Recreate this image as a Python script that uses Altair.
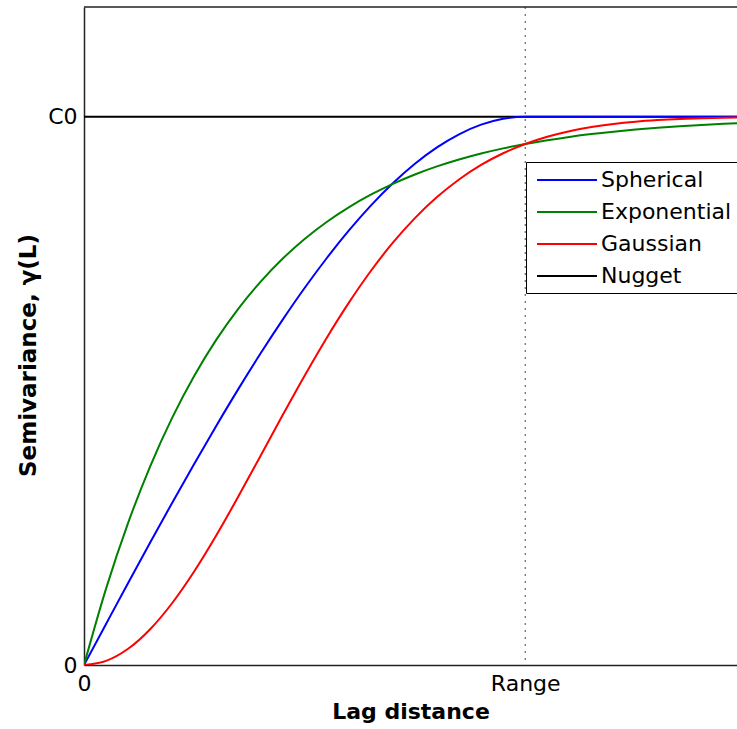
import altair as alt
import pandas as pd

# Lag distance in units of the range (1 = Range)
lag = [0.00, 0.05, 0.10, 0.15, 0.20, 0.25, 0.30, 0.35, 0.40, 0.45,
       0.50, 0.55, 0.60, 0.65, 0.70, 0.75, 0.80, 0.85, 0.90, 0.95,
       1.00, 1.05, 1.10, 1.15, 1.20, 1.25, 1.30, 1.35, 1.40, 1.45, 1.50]

# Semivariance in units of the sill C0
spherical = [0.0000, 0.0749, 0.1495, 0.2233, 0.2960, 0.3672, 0.4365, 0.5036, 0.5680, 0.6294,
             0.6875, 0.7418, 0.7920, 0.8377, 0.8785, 0.9141, 0.9440, 0.9679, 0.9855, 0.9963,
             1.0000, 1.0000, 1.0000, 1.0000, 1.0000, 1.0000, 1.0000, 1.0000, 1.0000, 1.0000, 1.0000]
exponential = [0.0000, 0.1393, 0.2592, 0.3624, 0.4512, 0.5276, 0.5934, 0.6501, 0.6988, 0.7408,
               0.7769, 0.8080, 0.8347, 0.8577, 0.8775, 0.8946, 0.9093, 0.9219, 0.9328, 0.9422,
               0.9502, 0.9571, 0.9631, 0.9683, 0.9727, 0.9765, 0.9798, 0.9826, 0.9850, 0.9871, 0.9889]
gaussian = [0.0000, 0.0075, 0.0296, 0.0653, 0.1131, 0.1710, 0.2366, 0.3076, 0.3812, 0.4553,
            0.5276, 0.5965, 0.6604, 0.7185, 0.7701, 0.8150, 0.8534, 0.8855, 0.9120, 0.9333,
            0.9502, 0.9634, 0.9735, 0.9811, 0.9867, 0.9908, 0.9937, 0.9958, 0.9972, 0.9982, 0.9988]
nugget_lag = [0.0, 1.5]
nugget = [1.0, 1.0]

series_names = ["Spherical", "Exponential", "Gaussian", "Nugget"]
series_colors = ["#0000ff", "#008000", "#ff0000", "#000000"]

range_lag = [1.0]
y_top = [1.2]

# Nugget first so the model curves sit on top of it
rows = [{"lag": x, "gamma": y, "model": "Nugget", "k": 0} for x, y in zip(nugget_lag, nugget)]
for k, (name, vals) in enumerate([("Spherical", spherical), ("Exponential", exponential),
                                  ("Gaussian", gaussian)], start=1):
    rows += [{"lag": x, "gamma": y, "model": name, "k": k} for x, y in zip(lag, vals)]
df = pd.DataFrame(rows)

font = "DejaVu Sans"

x_scale = alt.Scale(domain=[0, 1.48], nice=False, zero=False)
y_scale = alt.Scale(domain=[0, 1.2], nice=False, zero=False)

x_axis = alt.Axis(
    values=[0, 1], labelExpr="datum.value == 0 ? '0' : 'Range'",
    title="Lag distance", ticks=False, grid=False, labelFlush=False,
    labelFont=font, labelFontSize=22, labelColor="#000", labelPadding=8,
    titleFont=font, titleFontSize=22, titleFontWeight="bold", titleColor="#000",
    titleBaseline="alphabetic", titleY=53,
    domainColor="#222", domainWidth=1.5,
)
y_axis = alt.Axis(
    values=[0, 1], labelExpr="datum.value == 0 ? '0' : 'C0'",
    title="Semivariance, γ(L)", ticks=False, grid=False, labelFlush=False,
    labelFont=font, labelFontSize=22, labelColor="#000", labelPadding=7,
    titleFont=font, titleFontSize=23, titleFontWeight="bold", titleColor="#000",
    titleAngle=270, titleBaseline="alphabetic", titleAlign="center",
    titleX=-49, titleY=348,
    domainColor="#222", domainWidth=1.5,
)

# Legend swatch: a 60px horizontal stroke drawn as a custom path
swatch = "M-0.636,0H4.818"

color = alt.Color(
    "model:N",
    scale=alt.Scale(domain=series_names, range=series_colors),
    legend=alt.Legend(
        title=None, orient="none", legendX=442, legendY=155,
        symbolType=swatch, symbolSize=484, symbolStrokeWidth=2,
        labelFont=font, labelFontSize=22, labelColor="#000", labelOffset=45,
        padding=6, rowPadding=9, strokeColor="#000", fillColor="#fff",
    ),
)

curves = alt.Chart(df).mark_line(strokeWidth=2, clip=True, interpolate="monotone").encode(
    x=alt.X("lag:Q", scale=x_scale, axis=x_axis),
    y=alt.Y("gamma:Q", scale=y_scale, axis=y_axis),
    color=color,
    order=alt.Order("k:Q"),
    detail="k:N",
)

range_line = alt.Chart(pd.DataFrame({"lag": range_lag})).mark_rule(
    color="#444", strokeWidth=1, strokeDash=[2, 5]
).encode(x=alt.X("lag:Q", scale=x_scale))

top_border = alt.Chart(pd.DataFrame({"g": y_top})).mark_rule(
    color="#222", strokeWidth=1.5
).encode(y=alt.Y("g:Q", scale=y_scale))

chart = alt.layer(range_line, top_border, curves).properties(
    width=653, height=658,
    autosize=alt.AutoSizeParams(type="none"),
    padding={"left": 84, "top": 7, "right": 0, "bottom": 64},
    background="#ffffff",
).configure_view(stroke=None)

chart.save("out.html", embed_options={"renderer": "svg", "actions": False})
